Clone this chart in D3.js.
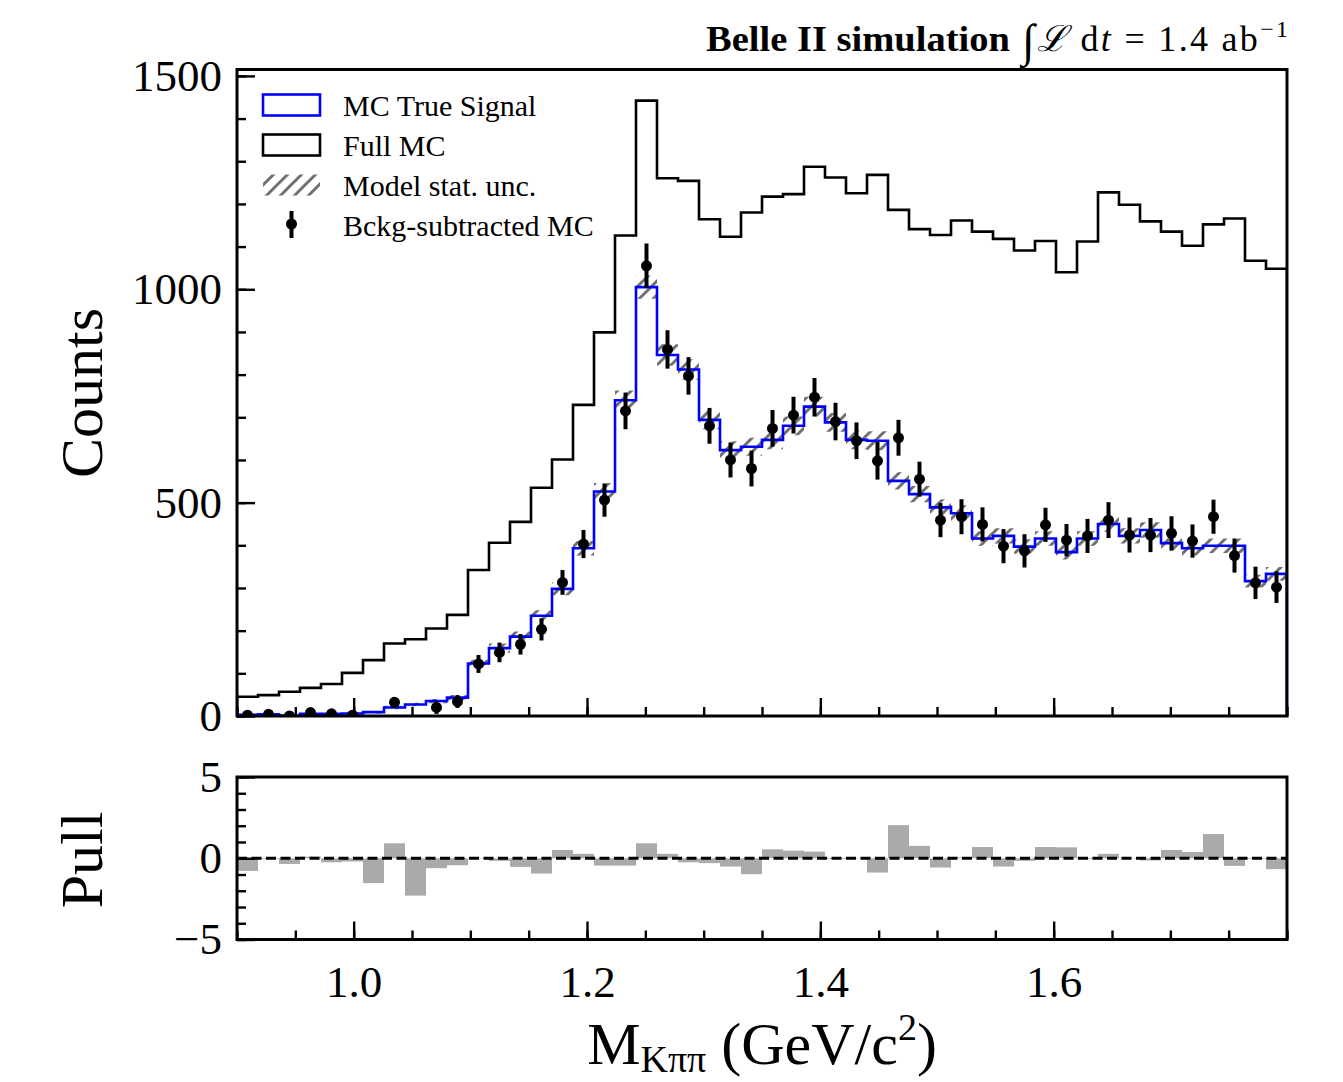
<!DOCTYPE html>
<html><head><meta charset="utf-8">
<script src="https://cdn.jsdelivr.net/npm/d3@7"></script>
<style>
body{margin:0;background:#fff;}
svg{display:block;}
text{font-family:'Liberation Serif','DejaVu Serif',serif;fill:#000;}
</style>
</head><body>
<svg id="chart" width="1343" height="1082"></svg>
<script>
// ---------------- data ----------------
const binLow = 0.9, binHigh = 1.8, nBins = 50;
const fullMC = [45,49,57,66,75,101,131,170,180,205,237,342,406,455,535,601,729,899,1126,1442,
  1260,1254,1164,1123,1180,1217,1223,1287,1262,1225,1268,1186,1141,1127,1161,1135,1118,1091,1113,1040,
  1112,1227,1198,1159,1135,1102,1152,1166,1067,1048];
const trueSignal = [3,4,1,5,5,6,9,20,27,35,43,123,159,186,235,298,393,526,740,1005,
  846,812,694,623,631,647,680,725,688,647,645,551,520,489,475,416,422,397,416,384,
  416,450,422,436,405,393,399,399,316,333];
const signalUnc = [2,2,1,2,2,2,3,4,4,5,6,9,11,12,13,15,17,20,23,27,
  25,24,22,21,21,22,22,23,22,22,22,20,19,19,19,17,18,17,17,17,
  17,18,18,18,17,17,17,17,15,16];
const bkgSubData = [2,4,0,8,5,2,-12,32,-20,20,34,122,149,168,203,313,403,506,715,1055,
  859,797,680,600,580,674,705,747,690,645,598,652,555,459,467,449,398,387,448,412,
  422,459,424,424,428,410,467,376,312,302];
const bkgSubErr = [6,6,6,7,7,8,10,12,13,15,15,21,23,24,26,29,33,39,43,52,
  45,44,42,41,42,43,43,45,44,43,44,42,41,40,41,40,40,39,40,38,
  40,42,41,40,40,39,40,40,38,37];
const pulls = [-0.78,-0.05,-0.35,0.1,-0.25,-0.2,-1.53,0.92,-2.3,-0.61,-0.43,-0.02,-0.16,-0.53,-0.94,0.51,0.27,-0.45,-0.45,0.92,
  0.27,-0.25,-0.3,-0.51,-0.98,0.55,0.47,0.41,-0.05,0.02,-0.88,2.04,0.76,-0.57,0.05,0.69,-0.51,-0.16,0.69,0.67,
  -0.05,0.27,0.02,-0.14,0.51,0.39,1.49,-0.47,-0.04,-0.67];
const xMajorTicks = [1.0,1.2,1.4,1.6];
const yMainTicks = [0,500,1000,1500];
const yPullTicks = [-5,0,5];
const legendLabels = ["MC True Signal","Full MC","Model stat. unc.","Bckg-subtracted MC"];

// ---------------- layout ----------------
const L = 237, R = 1287;
const mainTop = 69.5, mainBot = 716;
const pullTop = 777, pullBot = 939.5;
const svg = d3.select('#chart');
const binW = (binHigh - binLow) / nBins;
const edges = d3.range(nBins + 1).map(i => binLow + i * binW);
const centers = d3.range(nBins).map(i => binLow + (i + 0.5) * binW);

const x = d3.scaleLinear().domain([binLow, binHigh]).range([L, R]);
const y = d3.scaleLinear().domain([0, 1515]).range([mainBot, mainTop]);
const yp = d3.scaleLinear().domain([-5, 5]).range([pullBot, pullTop]);

const defs = svg.append('defs');
const pat = defs.append('pattern').attr('id','hatch').attr('patternUnits','userSpaceOnUse')
  .attr('width',14).attr('height',14);
pat.append('path').attr('d','M-3.5,3.5 L3.5,-3.5 M0,14 L14,0 M10.5,17.5 L17.5,10.5')
  .attr('stroke','#707070').attr('stroke-width',3);
defs.append('clipPath').attr('id','clipMain').append('rect')
  .attr('x',L).attr('y',mainTop).attr('width',R-L).attr('height',mainBot-mainTop);
defs.append('clipPath').attr('id','clipPull').append('rect')
  .attr('x',L).attr('y',pullTop).attr('width',R-L).attr('height',pullBot-pullTop);

function stepPoints(vals){
  const pts = [[edges[0],0]];
  vals.forEach((v,i)=>{ pts.push([edges[i],v]); pts.push([edges[i+1],v]); });
  pts.push([edges[nBins],0]);
  return pts;
}
const stepLine = (ys) => d3.line().x(d=>x(d[0])).y(d=>ys(d[1]));

// ---------------- main panel ----------------
const gMain = svg.append('g').attr('clip-path','url(#clipMain)');
const bandData = trueSignal.map((s,i)=>({x:edges[i], lo:s-signalUnc[i], hi:s+signalUnc[i]}));
bandData.push({x:edges[nBins], lo:bandData[nBins-1].lo, hi:bandData[nBins-1].hi});
gMain.append('path').datum(bandData)
  .attr('d', d3.area().curve(d3.curveStepAfter).x(d=>x(d.x)).y0(d=>y(d.lo)).y1(d=>y(d.hi)))
  .attr('fill','url(#hatch)').attr('stroke','none');
gMain.append('path').datum(stepPoints(fullMC)).attr('d', stepLine(y))
  .attr('fill','none').attr('stroke','#000').attr('stroke-width',2.6);
gMain.append('path').datum(stepPoints(trueSignal)).attr('d', stepLine(y))
  .attr('fill','none').attr('stroke','#0000ff').attr('stroke-width',2.6);
const pts = gMain.append('g');
bkgSubData.forEach((v,i)=>{
  pts.append('line').attr('x1',x(centers[i])).attr('x2',x(centers[i]))
    .attr('y1',y(v-bkgSubErr[i])).attr('y2',y(v+bkgSubErr[i]))
    .attr('stroke','#000').attr('stroke-width',4);
  pts.append('circle').attr('cx',x(centers[i])).attr('cy',y(v)).attr('r',5.5).attr('fill','#000');
});

// ---------------- pull panel ----------------
const gPull = svg.append('g').attr('clip-path','url(#clipPull)');
gPull.selectAll('rect.pull').data(pulls).enter().append('rect').attr('class','pull')
  .attr('x',(d,i)=>x(edges[i])).attr('width',(d,i)=>x(edges[i+1])-x(edges[i]))
  .attr('y',d=>yp(Math.max(d,0))).attr('height',d=>Math.abs(yp(d)-yp(0)))
  .attr('fill','#aaaaaa');
gPull.append('line').attr('x1',L).attr('x2',R).attr('y1',yp(0)).attr('y2',yp(0))
  .attr('stroke','#000').attr('stroke-width',3).attr('stroke-dasharray','10,4.5');

// ---------------- axes ----------------
function styleAxis(g){
  g.select('.domain').remove();
  g.selectAll('.tick line').attr('stroke','#000').attr('stroke-width',2.4);
  g.selectAll('.tick text').attr('font-family',"'Liberation Serif','DejaVu Serif',serif").attr('font-size',45).attr('fill','#000');
}
const minusFmt = d => d < 0 ? '\u2212' + Math.abs(d) : String(d);
svg.append('g').attr('transform',`translate(${L},0)`)
  .call(d3.axisLeft(y).tickValues(d3.range(0,1501,100)).tickSize(-9).tickFormat('')).call(styleAxis);
svg.append('g').attr('transform',`translate(${L},0)`)
  .call(d3.axisLeft(y).tickValues(yMainTicks).tickSize(-18).tickPadding(15).tickFormat(minusFmt)).call(styleAxis);
svg.append('g').attr('transform',`translate(0,${mainBot})`)
  .call(d3.axisBottom(x).tickValues(d3.range(0.9,1.8001,0.05)).tickSize(-9).tickFormat('')).call(styleAxis);
svg.append('g').attr('transform',`translate(0,${mainBot})`)
  .call(d3.axisBottom(x).tickValues(xMajorTicks).tickSize(-18).tickFormat('')).call(styleAxis);
svg.append('g').attr('transform',`translate(${L},0)`)
  .call(d3.axisLeft(yp).tickValues(d3.range(-5,5.001,1)).tickSize(-9).tickFormat('')).call(styleAxis);
svg.append('g').attr('transform',`translate(${L},0)`)
  .call(d3.axisLeft(yp).tickValues(yPullTicks).tickSize(-18).tickPadding(15).tickFormat(minusFmt)).call(styleAxis);
svg.append('g').attr('transform',`translate(0,${pullBot})`)
  .call(d3.axisBottom(x).tickValues(d3.range(0.9,1.8001,0.05)).tickSize(-9).tickFormat('')).call(styleAxis);
svg.append('g').attr('transform',`translate(0,${pullBot})`)
  .call(d3.axisBottom(x).tickValues(xMajorTicks).tickSize(-18).tickPadding(26).tickFormat(d3.format('.1f'))).call(styleAxis);

// frames
svg.append('rect').attr('x',L).attr('y',mainTop).attr('width',R-L).attr('height',mainBot-mainTop)
  .attr('fill','none').attr('stroke','#000').attr('stroke-width',3);
svg.append('rect').attr('x',L).attr('y',pullTop).attr('width',R-L).attr('height',pullBot-pullTop)
  .attr('fill','none').attr('stroke','#000').attr('stroke-width',3);

// ---------------- labels ----------------
svg.append('text').attr('transform','translate(102,393) rotate(-90)').attr('text-anchor','middle')
  .attr('font-size',60).text('Counts');
svg.append('text').attr('transform','translate(102,860) rotate(-90)').attr('text-anchor','middle')
  .attr('font-size',60).text('Pull');
const xl = svg.append('text').attr('x',762).attr('y',1064).attr('text-anchor','middle').attr('font-size',60);
xl.append('tspan').text('M');
xl.append('tspan').attr('font-size',38).attr('dy',8).text('K\u03c0\u03c0');
xl.append('tspan').attr('dy',-8).text(' (GeV/c');
xl.append('tspan').attr('font-size',38).attr('dy',-24).text('2');
xl.append('tspan').attr('dy',24).text(')');

// title
svg.append('text').attr('x',706).attr('y',51).attr('font-weight','bold').attr('font-size',35)
  .attr('textLength',304).attr('lengthAdjust','spacingAndGlyphs').text('Belle II simulation');
const tt = svg.append('text').attr('x',1022).attr('y',51).attr('font-size',36)
  .attr('textLength',266).attr('lengthAdjust','spacing');
tt.append('tspan').attr('font-size',46).attr('dy',5).text('\u222b');
tt.append('tspan').attr('dy',-5).attr('font-style','italic').text('\u2112');
tt.append('tspan').text(' d');
tt.append('tspan').attr('font-style','italic').text('t');
tt.append('tspan').text(' = 1.4 ab');
tt.append('tspan').attr('font-size',24).attr('dy',-14).text('\u22121');

// legend
const lg = svg.append('g');
const rowY = [105,145,185,225];
lg.append('rect').attr('x',263).attr('y',rowY[0]-10.5).attr('width',57).attr('height',21)
  .attr('fill','none').attr('stroke','#0000ff').attr('stroke-width',2.6);
lg.append('rect').attr('x',263).attr('y',rowY[1]-10.5).attr('width',57).attr('height',21)
  .attr('fill','none').attr('stroke','#000').attr('stroke-width',2.6);
lg.append('rect').attr('x',263).attr('y',rowY[2]-10.5).attr('width',57).attr('height',21)
  .attr('fill','url(#hatch)');
lg.append('line').attr('x1',291.5).attr('x2',291.5).attr('y1',rowY[3]-14).attr('y2',rowY[3]+13)
  .attr('stroke','#000').attr('stroke-width',4);
lg.append('circle').attr('cx',291.5).attr('cy',rowY[3]-1).attr('r',5.5).attr('fill','#000');
legendLabels.forEach((t,i)=>{
  lg.append('text').attr('x',343).attr('y',rowY[i]+11).attr('font-size',30).text(t);
});
</script>
</body></html>
